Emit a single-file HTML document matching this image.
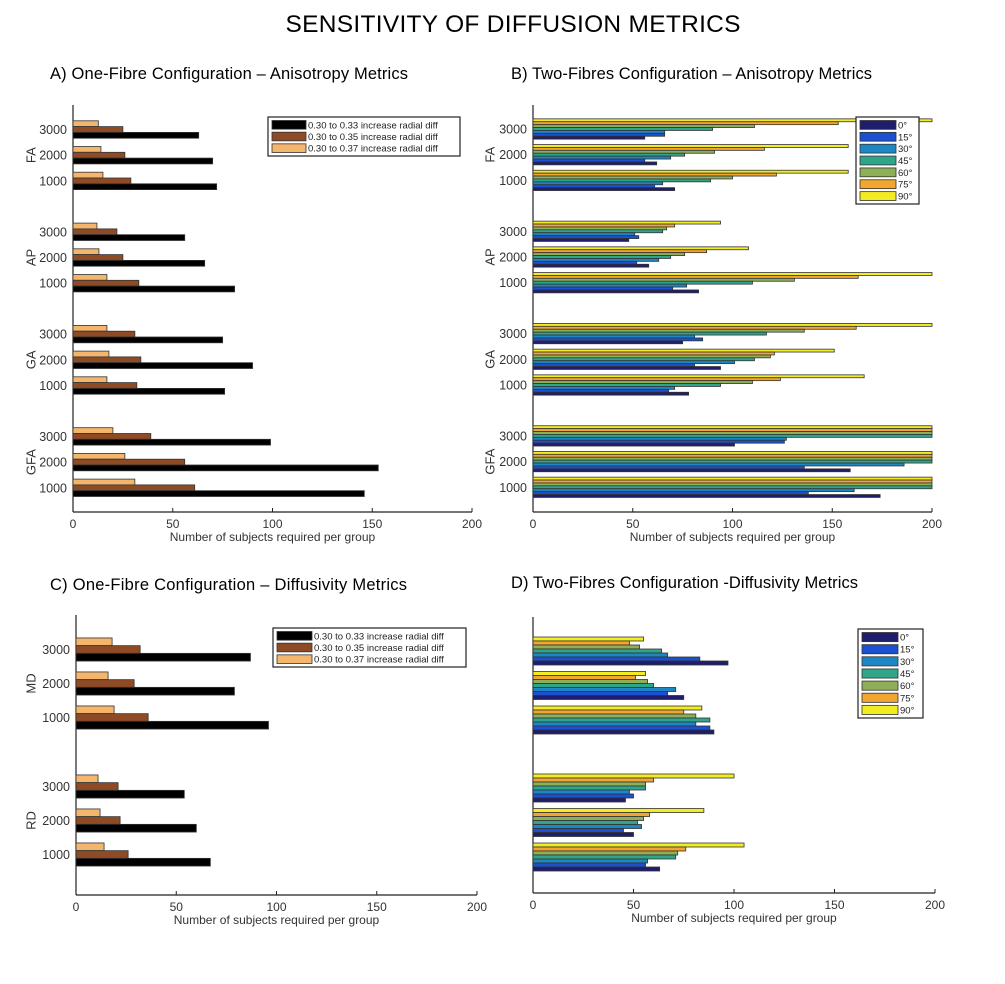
<!DOCTYPE html>
<html><head><meta charset="utf-8">
<style>
body{margin:0;background:#fff;}
svg{display:block;font-family:"Liberation Sans",sans-serif;}
</style></head>
<body>
<svg id="fig" width="1005" height="984" viewBox="0 0 1005 984">
<text x="513" y="32" font-size="24.5" text-anchor="middle" textLength="455">SENSITIVITY OF DIFFUSION METRICS</text>
<text x="50" y="79" font-size="16.5" textLength="358">A) One-Fibre Configuration – Anisotropy Metrics</text>
<text x="511" y="79" font-size="16.5" textLength="361">B) Two-Fibres Configuration – Anisotropy Metrics</text>
<text x="50" y="590" font-size="16.5" textLength="357">C) One-Fibre Configuration – Diffusivity Metrics</text>
<text x="511" y="588" font-size="16.5" textLength="347">D) Two-Fibres Configuration -Diffusivity Metrics</text>
</svg>
<script>
// ---- data ----
const bValues = ["3000","2000","1000"];
const metricsAB = ["FA","AP","GA","GFA"];
const metricsCD = ["MD","RD"];
const oneFibreSeries = ["0.30 to 0.37 increase radial diff","0.30 to 0.35 increase radial diff","0.30 to 0.33 increase radial diff"];
const angleSeries = ["90°","75°","60°","45°","30°","15°","0°"];
const xTicks = [0,50,100,150,200];
// panel A: per subgroup [light, brown, black]
const panelA = [
 [12.7,25,63],[14,26,70],[15,29,72],
 [12,22,56],[13,25,66],[17,33,81],
 [17,31,75],[18,34,90],[17,32,76],
 [20,39,99],[26,56,153],[31,61,146]
];
// panel B: per subgroup [90,75,60,45,30,15,0]
const panelB = [
 [200,153,111,90,66,66,56],[158,116,91,76,69,56,62],[158,122,100,89,65,61,71],
 [94,71,67,65,51,53,48],[108,87,76,69,63,52,58],[200,163,131,110,77,70,83],
 [200,162,136,117,81,85,75],[151,121,119,111,101,81,94],[166,124,110,94,71,68,78],
 [200,200,200,200,127,126,101],[200,200,200,200,186,136,159],[200,200,200,200,161,138,174]
];
const panelC = [
 [18,32,87],[16,29,79],[19,36,96],
 [11,21,54],[12,22,60],[14,26,67]
];
const panelD = [
 [55,48,53,64,67,83,97],[56,51,57,60,71,67,75],[84,75,81,88,81,88,90],
 [100,60,56,56,48,50,46],[85,58,55,52,54,45,50],[105,76,72,71,57,56,63]
];
const oneColors = ["#f4b56c","#8e4b26","#000000"];
const angleColors = ["#f2ec22","#f2a531","#8eae57","#2fa58a","#1d87c4","#1b50d0","#1e1e6c"];
// ---- drawing ----
const NS="http://www.w3.org/2000/svg";
const svg=document.getElementById('fig');
function mk(tag,attrs,parent){const e=document.createElementNS(NS,tag);for(const k in attrs)e.setAttribute(k,attrs[k]);(parent||svg).appendChild(e);return e;}
function panel(cfg){
  const g=mk('g',{});
  
  
  const xs=v=>cfg.x0+(cfg.x1-cfg.x0)*v/200;
  const yc=(m,k)=>cfg.first+m*cfg.block+k*cfg.step;
  const ya=mk('line',{x1:cfg.x0,x2:cfg.x0,y1:cfg.top,y2:cfg.axisY,stroke:'#222','stroke-width':1.2},g);
  
  
  const xa=mk('line',{x1:cfg.x0,x2:cfg.x1,y1:cfg.axisY,y2:cfg.axisY,stroke:'#222','stroke-width':1.2},g);
  
  
  xTicks.forEach(t=>{
    const tk=mk('line',{x1:xs(t),x2:xs(t),y1:cfg.axisY,y2:cfg.axisY-4,stroke:'#222'},g);
    
    
    const tl=mk('text',{x:xs(t),y:cfg.axisY+16,'font-size':12,'text-anchor':'middle',fill:'#333'},g);
    tl.textContent=t;
    
    
  });
  const xt=mk('text',{x:(cfg.x0+cfg.x1)/2,y:cfg.axisY+29,'font-size':12,'text-anchor':'middle',fill:'#333'},g);
  xt.textContent='Number of subjects required per group';
  
  
  const n=cfg.colors.length, bh=cfg.bh;
  cfg.metrics.forEach((m,mi)=>{
    if(cfg.labels){
      const cy=yc(mi,1);
      const ml=mk('text',{x:cfg.mx,y:cy,'font-size':13,'text-anchor':'middle',fill:'#333',transform:`rotate(-90 ${cfg.mx} ${cy})`,dy:'0.35em'},g);
      ml.textContent=m;
      
      
    }
    bValues.forEach((b,bi)=>{
      const cy=yc(mi,bi);
      if(cfg.labels){
        const bl=mk('text',{x:cfg.x0-6,y:cy+4.5,'font-size':12.5,'text-anchor':'end',fill:'#333'},g);
        bl.textContent=b;
        
        
      }
      const vals=cfg.data[mi*3+bi];
      vals.forEach((v,si)=>{
        const y=cy-n*bh/2+si*bh;
        const r=mk('rect',{x:cfg.x0,y:y,width:xs(v)-cfg.x0,height:bh,fill:cfg.colors[si],stroke:'#333','stroke-width':0.8},g);
        
        
      });
    });
  });
  const L=cfg.legend;
  const lg=mk('g',{},g);
  
  
  mk('rect',{x:L.x,y:L.y,width:L.w,height:L.h,fill:'#fff',stroke:'#222','stroke-width':1.2},lg);
  const order=cfg.legendOrder;
  const rowH=(L.h-4)/order.length;
  order.forEach((si,i)=>{
    const ry=L.y+2+i*rowH;
    const sw=mk('rect',{x:L.x+4,y:ry+1.5,width:L.sw,height:rowH-3,fill:cfg.colors[si],stroke:'#333','stroke-width':0.8},lg);
    
    
    const lt=mk('text',{x:L.x+L.sw+6,y:ry+rowH/2+3.5,'font-size':L.fs,fill:'#222'},lg);
    lt.textContent=cfg.series[si];
    
    
  });
}
panel({name:'panel-a-chart',x0:73,x1:472,top:105,axisY:512,first:129.5,step:25.7,block:102.3,bh:5.8,
  metrics:metricsAB,data:panelA,colors:oneColors,series:oneFibreSeries,labels:true,mx:31,
  legend:{x:268,y:117,w:192,h:39,sw:34,fs:9.5},legendOrder:[2,1,0]});
panel({name:'panel-b-chart',x0:533,x1:932,top:105,axisY:512,first:129,step:25.7,block:102.3,bh:2.9,
  metrics:metricsAB,data:panelB,colors:angleColors,series:angleSeries,labels:true,mx:490,
  legend:{x:856,y:117,w:63,h:87,sw:36,fs:9.5},legendOrder:[6,5,4,3,2,1,0]});
panel({name:'panel-c-chart',x0:76,x1:477,top:615,axisY:895,first:649.5,step:34,block:137,bh:7.7,
  metrics:metricsCD,data:panelC,colors:oneColors,series:oneFibreSeries,labels:true,mx:31,
  legend:{x:273,y:628,w:193,h:39,sw:35,fs:9.5},legendOrder:[2,1,0]});
panel({name:'panel-d-chart',x0:533,x1:935,top:617,axisY:893,first:651,step:34.5,block:137,bh:4,
  metrics:metricsCD,data:panelD,colors:angleColors,series:angleSeries,labels:false,mx:0,
  legend:{x:858,y:629,w:65,h:89,sw:36,fs:9.5},legendOrder:[6,5,4,3,2,1,0]});
</script>
</body></html>
